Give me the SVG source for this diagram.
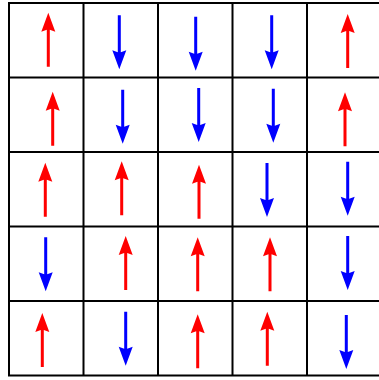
<svg xmlns="http://www.w3.org/2000/svg" xmlns:xlink="http://www.w3.org/1999/xlink" width="379" height="380" viewBox="0 0 379 380">
<style>
.grid{stroke:#000;stroke-width:2;fill:none}
.up{fill:#ff0000}
.dn{fill:#0000ff}
</style>
<defs>
<path id="arr" d="M0,0 L7,19 L1.5,17 L1.5,54 L-1.5,54 L-1.5,17 L-7,19 Z"/>
</defs>
<rect width="379" height="380" fill="#fff"/>
<g id="grid" class="grid">
<path d="M9,3 V375.5 M83.5,3 V375.5 M158,3 V375.5 M232.5,3 V375.5 M307,3 V375.5 M381.5,3 V375.5"/>
<path d="M8,3 H383 M8,77.5 H383 M8,152 H383 M8,226.5 H383 M8,301 H383 M8,375.5 H383"/>
</g>
<g id="r0c0"><use xlink:href="#arr" class="up" transform="translate(48.3,12.7)"/></g>
<g id="r0c1"><use xlink:href="#arr" class="dn" transform="translate(119.3,69.3) rotate(180)"/></g>
<g id="r0c2"><use xlink:href="#arr" class="dn" transform="translate(195.7,70.7) rotate(180)"/></g>
<g id="r0c3"><use xlink:href="#arr" class="dn" transform="translate(271.7,69.3) rotate(180)"/></g>
<g id="r0c4"><use xlink:href="#arr" class="up" transform="translate(347.7,14)"/></g>
<g id="r1c0"><use xlink:href="#arr" class="up" transform="translate(52.7,91.7)"/></g>
<g id="r1c1"><use xlink:href="#arr" class="dn" transform="translate(122.7,143.7) rotate(180)"/></g>
<g id="r1c2"><use xlink:href="#arr" class="dn" transform="translate(198.7,142) rotate(180)"/></g>
<g id="r1c3"><use xlink:href="#arr" class="dn" transform="translate(273.3,142.7) rotate(180)"/></g>
<g id="r1c4"><use xlink:href="#arr" class="up" transform="translate(345,92.3)"/></g>
<g id="r2c0"><use xlink:href="#arr" class="up" transform="translate(45.3,162.7)"/></g>
<g id="r2c1"><use xlink:href="#arr" class="up" transform="translate(121.7,161.3)"/></g>
<g id="r2c2"><use xlink:href="#arr" class="up" transform="translate(199,164.7)"/></g>
<g id="r2c3"><use xlink:href="#arr" class="dn" transform="translate(267,217) rotate(180)"/></g>
<g id="r2c4"><use xlink:href="#arr" class="dn" transform="translate(347.7,215.7) rotate(180)"/></g>
<g id="r3c0"><use xlink:href="#arr" class="dn" transform="translate(45.7,291.3) rotate(180)"/></g>
<g id="r3c1"><use xlink:href="#arr" class="up" transform="translate(125.7,236)"/></g>
<g id="r3c2"><use xlink:href="#arr" class="up" transform="translate(197.7,237.3)"/></g>
<g id="r3c3"><use xlink:href="#arr" class="up" transform="translate(270,237.3)"/></g>
<g id="r3c4"><use xlink:href="#arr" class="dn" transform="translate(347.7,290) rotate(180)"/></g>
<g id="r4c0"><use xlink:href="#arr" class="up" transform="translate(42.3,313)"/></g>
<g id="r4c1"><use xlink:href="#arr" class="dn" transform="translate(125.7,365.7) rotate(180)"/></g>
<g id="r4c2"><use xlink:href="#arr" class="up" transform="translate(197.7,314.3)"/></g>
<g id="r4c3"><use xlink:href="#arr" class="up" transform="translate(267.3,311.7)"/></g>
<g id="r4c4"><use xlink:href="#arr" class="dn" transform="translate(346.3,369) rotate(180)"/></g>
</svg>
